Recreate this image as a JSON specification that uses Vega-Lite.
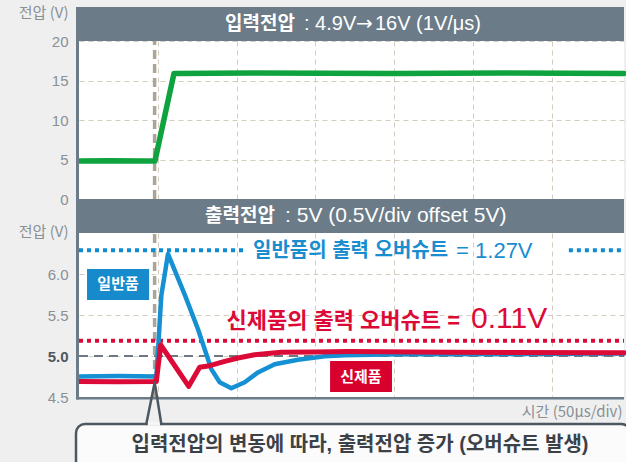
{
  "$schema": "https://vega.github.io/schema/vega-lite/v6.json",
  "background": "#efefef",
  "padding": {"left": 18, "top": 5, "right": 0, "bottom": 0},
  "spacing": 34,
  "bounds": "flush",
  "config": {
    "font": "Liberation Sans, Noto Sans CJK KR",
    "view": {"stroke": null, "fill": "#ffffff"}
  },
  "datasets": {
    "frameTop": [
      {"t": -51.9, "t2": 296, "v": 20, "v2": 24.3},
      {"t": -51.9, "t2": -50, "v": 0, "v2": 20}
    ],
    "titleTopKo": [{"t": 87.1, "v": 22.15, "label": "입력전압"}],
    "titleTopA": [{"t": 92.85, "v": 22.15, "label": ": 4.9V"}],
    "titleTopArrow": [{"t": 125.9, "v": 22.15, "label": "→"}],
    "titleTopB": [{"t": 137.9, "v": 22.15, "label": "16V (1V/μs)"}],
    "triggerTop": [{"t": -2, "v": 0, "v2": 20}],
    "green": [
      {"t": -50, "v": 4.8},
      {"t": -30, "v": 4.85},
      {"t": -10, "v": 4.8},
      {"t": -1.8, "v": 4.8},
      {"t": 10.3, "v": 15.9},
      {"t": 60, "v": 15.95},
      {"t": 150, "v": 15.9},
      {"t": 220, "v": 15.95},
      {"t": 296, "v": 15.9}
    ],
    "frameBot": [
      {"t": -51.9, "t2": 296, "v": 6.5, "v2": 6.915},
      {"t": -51.9, "t2": -50, "v": 4.47, "v2": 6.5},
      {"t": -51.9, "t2": 296, "v": 4.47, "v2": 4.5}
    ],
    "titleBotKo": [{"t": 74.4, "v": 6.707, "label": "출력전압"}],
    "titleBotLat": [{"t": 80.8, "v": 6.707, "label": ": 5V (0.5V/div offset 5V)"}],
    "triggerBot": [{"t": -2, "v": 4.5, "v2": 6.5}],
    "ref5": [{"t": -50, "t2": 296, "v": 5.0}],
    "blueDot": [
      {"t": -50, "t2": 55, "v": 6.29},
      {"t": 261, "t2": 296, "v": 6.29}
    ],
    "redDot": [{"t": -50, "t2": 296, "v": 5.187}],
    "blue": [
      {"t": -50, "v": 4.75},
      {"t": -25, "v": 4.755},
      {"t": -0.9, "v": 4.75},
      {"t": 0.6, "v": 5.21},
      {"t": 2.25, "v": 5.735},
      {"t": 6.5, "v": 6.245},
      {"t": 17.3, "v": 5.74},
      {"t": 25.5, "v": 5.33},
      {"t": 34.0, "v": 4.84},
      {"t": 39.3, "v": 4.68},
      {"t": 46.7, "v": 4.606},
      {"t": 55.2, "v": 4.68},
      {"t": 63.6, "v": 4.8},
      {"t": 74.2, "v": 4.9},
      {"t": 89.0, "v": 4.955},
      {"t": 106.0, "v": 4.996},
      {"t": 118.7, "v": 5.01},
      {"t": 152.5, "v": 5.02},
      {"t": 216, "v": 5.025},
      {"t": 296, "v": 5.03}
    ],
    "red": [
      {"t": -50, "v": 4.69},
      {"t": -25, "v": 4.685},
      {"t": -0.9, "v": 4.69},
      {"t": 1.9, "v": 5.134},
      {"t": 19.65, "v": 4.63},
      {"t": 26.6, "v": 4.862},
      {"t": 33.0, "v": 4.882},
      {"t": 42.5, "v": 4.935},
      {"t": 50.95, "v": 4.976},
      {"t": 61.5, "v": 5.016},
      {"t": 78.4, "v": 5.045},
      {"t": 99.6, "v": 5.05},
      {"t": 120.8, "v": 5.055},
      {"t": 184.3, "v": 5.045},
      {"t": 296, "v": 5.04}
    ],
    "blueBox": [{"t": -44.9, "t2": -5.5, "v": 6.061, "v2": 5.683}],
    "redBox": [{"t": 109.4, "t2": 148.7, "v": 4.939, "v2": 4.561}],
    "blueBoxText": [{"t": -25.2, "v": 5.872, "label": "일반품"}],
    "redBoxText": [{"t": 129.0, "v": 4.75, "label": "신제품"}],
    "blueTextKo": [{"t": 60.5, "v": 6.285, "label": "일반품의 출력 오버슈트"}],
    "blueTextLat": [{"t": 189.4, "v": 6.285, "label": "= 1.27V"}],
    "redText": [{"t": 191.9, "v": 5.427, "label": "신제품의 출력 오버슈트 ="}],
    "redBig": [{"t": 198.9, "v": 5.45, "label": "0.11V"}],
    "callBox": [{"t": -51.9, "t2": 300, "v": 4.171, "v2": 3.6}],
    "callGap": [{"t": -6.4, "t2": 1.4, "v": 4.196, "v2": 4.15}],
    "pointer": [
      {"t": -7.27, "v": 4.171, "t2": -1.94, "v2": 4.679},
      {"t": 2.25, "v": 4.171, "t2": -1.94, "v2": 4.679}
    ],
    "callText": [{"t": 128.4, "v": 3.915, "label": "입력전압의 변동에 따라, 출력전압 증가 (오버슈트 발생)"}]
  },
  "vconcat": [
    {
      "width": 545,
      "height": 158,
      "encoding": {
        "x": {
          "field": "t", "type": "quantitative",
          "scale": {"domain": [-50, 296], "nice": false, "zero": false},
          "axis": {"values": [0, 50, 100, 150, 200, 250], "grid": true, "gridColor": "#d3ccbf", "gridDash": [5, 4], "gridWidth": 1, "labels": false, "ticks": false, "domain": false, "title": null}
        },
        "y": {
          "field": "v", "type": "quantitative",
          "scale": {"domain": [0, 20], "nice": false, "zero": false},
          "axis": {"values": [0, 5, 10, 15, 20], "grid": true, "gridColor": "#d3ccbf", "gridDash": [5, 4], "gridWidth": 1, "ticks": false, "domain": false, "labelPadding": 11, "labelFontSize": 15, "labelColor": "#899096", "labelFont": "Liberation Sans", "title": "전압 (V)", "titleAngle": 0, "titleAlign": "right", "titleBaseline": "middle", "titleX": -11, "titleY": -29, "titleFontSize": 15, "titleFontWeight": "normal", "titleColor": "#899096", "titleFont": "Noto Sans CJK KR, Liberation Sans"}
        }
      },
      "layer": [
        {"data": {"name": "triggerTop"}, "mark": {"type": "rule", "color": "#a9a598", "strokeWidth": 3.5, "strokeDash": [9, 5]}, "encoding": {"y2": {"field": "v2"}}},
        {"data": {"name": "green"}, "mark": {"type": "line", "color": "#0ea33e", "strokeWidth": 5.5, "strokeJoin": "round", "strokeCap": "round"}},
        {"data": {"name": "frameTop"}, "mark": {"type": "rect", "color": "#6b7b87"}, "encoding": {"x2": {"field": "t2"}, "y2": {"field": "v2"}}},
        {"data": {"name": "titleTopKo"}, "mark": {"type": "text", "color": "#ffffff", "fontSize": 19, "font": "Noto Sans CJK KR", "fontWeight": "bold", "align": "right", "baseline": "middle"}, "encoding": {"text": {"field": "label"}}},
        {"data": {"name": "titleTopA"}, "mark": {"type": "text", "color": "#ffffff", "fontSize": 20, "font": "Liberation Sans", "fontWeight": "normal", "align": "left", "baseline": "middle"}, "encoding": {"text": {"field": "label"}}},
        {"data": {"name": "titleTopArrow"}, "mark": {"type": "text", "color": "#ffffff", "fontSize": 20, "font": "DejaVu Sans", "fontWeight": "normal", "align": "left", "baseline": "middle"}, "encoding": {"text": {"field": "label"}}},
        {"data": {"name": "titleTopB"}, "mark": {"type": "text", "color": "#ffffff", "fontSize": 20, "font": "Liberation Sans", "fontWeight": "normal", "align": "left", "baseline": "middle"}, "encoding": {"text": {"field": "label"}}}
      ]
    },
    {
      "width": 545,
      "height": 164,
      "encoding": {
        "x": {
          "field": "t", "type": "quantitative",
          "scale": {"domain": [-50, 296], "nice": false, "zero": false},
          "axis": {"values": [0, 50, 100, 150, 200, 250], "grid": true, "gridColor": "#d3ccbf", "gridDash": [5, 4], "gridWidth": 1, "labels": false, "ticks": false, "domain": false, "title": "시간 (50μs/div)", "titleAnchor": "end", "titleAlign": "right", "titleBaseline": "middle", "titleX": 543, "titleY": 14, "titleFontSize": 15, "titleFontWeight": "normal", "titleColor": "#899096", "titleFont": "Noto Sans CJK KR, Liberation Sans"}
        },
        "y": {
          "field": "v", "type": "quantitative",
          "scale": {"domain": [4.5, 6.5], "nice": false, "zero": false},
          "axis": {"values": [4.5, 5, 5.5, 6], "format": ".1f", "grid": true, "gridColor": "#d3ccbf", "gridDash": [5, 4], "gridWidth": 1, "ticks": false, "domain": false, "labelPadding": 11, "labelFontSize": 15, "labelColor": {"condition": {"test": "datum.value === 5", "value": "#4f575e"}, "value": "#899096"}, "labelFontWeight": {"condition": {"test": "datum.value === 5", "value": "bold"}, "value": "normal"}, "labelFont": "Liberation Sans", "title": "전압 (V)", "titleAngle": 0, "titleAlign": "right", "titleBaseline": "middle", "titleX": -11, "titleY": -2, "titleFontSize": 15, "titleFontWeight": "normal", "titleColor": "#899096", "titleFont": "Noto Sans CJK KR, Liberation Sans"}
        }
      },
      "layer": [
        {"data": {"name": "ref5"}, "mark": {"type": "rule", "color": "#6f7880", "strokeWidth": 2, "strokeDash": [9, 6]}, "encoding": {"x2": {"field": "t2"}}},
        {"data": {"name": "triggerBot"}, "mark": {"type": "rule", "color": "#a9a598", "strokeWidth": 3.5, "strokeDash": [9, 5]}, "encoding": {"y2": {"field": "v2"}}},
        {"data": {"name": "blueDot"}, "mark": {"type": "rule", "color": "#0f8bd0", "strokeWidth": 4, "strokeDash": [4, 4]}, "encoding": {"x2": {"field": "t2"}}},
        {"data": {"name": "redDot"}, "mark": {"type": "rule", "color": "#dc0a36", "strokeWidth": 4, "strokeDash": [4, 4]}, "encoding": {"x2": {"field": "t2"}}},
        {"data": {"name": "blue"}, "mark": {"type": "line", "color": "#1590d2", "strokeWidth": 4.5, "strokeJoin": "round", "strokeCap": "round"}},
        {"data": {"name": "red"}, "mark": {"type": "line", "color": "#dc0a36", "strokeWidth": 5, "strokeJoin": "round", "strokeCap": "round"}},
        {"data": {"name": "blueBox"}, "mark": {"type": "rect", "color": "#168acb"}, "encoding": {"x2": {"field": "t2"}, "y2": {"field": "v2"}}},
        {"data": {"name": "redBox"}, "mark": {"type": "rect", "color": "#d8002d"}, "encoding": {"x2": {"field": "t2"}, "y2": {"field": "v2"}}},
        {"data": {"name": "blueBoxText"}, "mark": {"type": "text", "color": "#ffffff", "fontSize": 15, "font": "Noto Sans CJK KR", "fontWeight": "bold", "align": "center", "baseline": "middle"}, "encoding": {"text": {"field": "label"}}},
        {"data": {"name": "redBoxText"}, "mark": {"type": "text", "color": "#ffffff", "fontSize": 15, "font": "Noto Sans CJK KR", "fontWeight": "bold", "align": "center", "baseline": "middle"}, "encoding": {"text": {"field": "label"}}},
        {"data": {"name": "blueTextKo"}, "mark": {"type": "text", "color": "#1a8dcf", "fontSize": 20, "font": "Liberation Sans, Noto Sans CJK KR", "fontWeight": "bold", "align": "left", "baseline": "middle"}, "encoding": {"text": {"field": "label"}}},
        {"data": {"name": "blueTextLat"}, "mark": {"type": "text", "color": "#1a8dcf", "fontSize": 22, "font": "Liberation Sans", "fontWeight": "normal", "align": "left", "baseline": "middle"}, "encoding": {"text": {"field": "label"}}},
        {"data": {"name": "redText"}, "mark": {"type": "text", "color": "#dc0a36", "fontSize": 22, "font": "Liberation Sans, Noto Sans CJK KR", "fontWeight": "bold", "align": "right", "baseline": "middle"}, "encoding": {"text": {"field": "label"}}},
        {"data": {"name": "redBig"}, "mark": {"type": "text", "color": "#dc0a36", "fontSize": 30, "font": "Liberation Sans", "fontWeight": "normal", "align": "left", "baseline": "middle"}, "encoding": {"text": {"field": "label"}}},
        {"data": {"name": "frameBot"}, "mark": {"type": "rect", "color": "#6b7b87"}, "encoding": {"x2": {"field": "t2"}, "y2": {"field": "v2"}}},
        {"data": {"name": "titleBotKo"}, "mark": {"type": "text", "color": "#ffffff", "fontSize": 19, "font": "Noto Sans CJK KR", "fontWeight": "bold", "align": "right", "baseline": "middle"}, "encoding": {"text": {"field": "label"}}},
        {"data": {"name": "titleBotLat"}, "mark": {"type": "text", "color": "#ffffff", "fontSize": 21, "font": "Liberation Sans", "fontWeight": "normal", "align": "left", "baseline": "middle"}, "encoding": {"text": {"field": "label"}}},
        {"data": {"name": "callBox"}, "mark": {"type": "rect", "fill": "#fbfbfb", "stroke": "#4d5760", "strokeWidth": 2.5, "cornerRadius": 9}, "encoding": {"x2": {"field": "t2"}, "y2": {"field": "v2"}}},
        {"data": {"name": "callGap"}, "mark": {"type": "rect", "color": "#f6f6f6"}, "encoding": {"x2": {"field": "t2"}, "y2": {"field": "v2"}}},
        {"data": {"name": "pointer"}, "mark": {"type": "rule", "color": "#4d5760", "strokeWidth": 2.5, "strokeCap": "round"}, "encoding": {"x2": {"field": "t2"}, "y2": {"field": "v2"}}},
        {"data": {"name": "callText"}, "mark": {"type": "text", "color": "#3b4147", "fontSize": 20, "font": "Liberation Sans, Noto Sans CJK KR", "fontWeight": "bold", "align": "center", "baseline": "middle"}, "encoding": {"text": {"field": "label"}}}
      ]
    }
  ]
}
